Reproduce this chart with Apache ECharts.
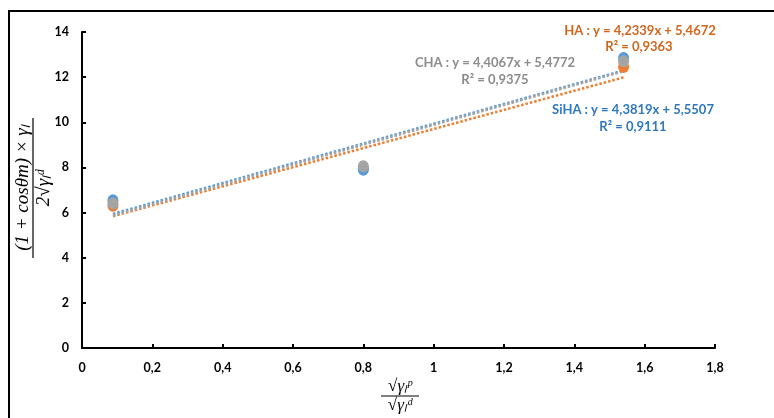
<!DOCTYPE html>
<html><head><meta charset="utf-8">
<script src="https://cdn.jsdelivr.net/npm/echarts@6/dist/echarts.min.js"></script>
<style>html,body{margin:0;padding:0;background:#fff}#c{width:774px;height:418px}</style>
</head><body><div id="c"></div>
<script>
// Data
const xValues = [0.088, 0.80, 1.54];
const haValues = [6.30, 7.95, 12.45];
const chaValues = [6.40, 8.05, 12.70];
const sihaValues = [6.55, 7.90, 12.85];
// Trend line endpoints (from the displayed regression equations)
const haTrend = [[0.088, 5.84], [1.54, 11.99]];
const chaTrend = [[0.088, 5.87], [1.54, 12.26]];
const sihaTrend = [[0.088, 5.94], [1.54, 12.30]];
const xTicks = {min: 0, max: 1.8, interval: 0.2};
const yTicks = {min: 0, max: 14, interval: 2};
const labels = {
  ha: ['HA : y = 4,2339x + 5,4672', 'R² = 0,9363'],
  cha: ['CHA : y = 4,4067x + 5,4772', 'R² = 0,9375'],
  siha: ['SiHA : y = 4,3819x + 5,5507', 'R² = 0,9111']
};

const C_HA = '#ED7D31', C_CHA = '#A5A5A5', C_SIHA = '#5B9BD5';
const T_HA = '#D0661E', T_CHA = '#8C8C8C', T_SIHA = '#2E78C0';

const chart = echarts.init(document.getElementById('c'));
const fmt = v => String(+(+v).toFixed(1)).replace('.', ',');
const lab = {color: '#000', fontWeight: 'bold', fontSize: 12.5, fontFamily: 'Lato'};
function pts(ys){ return xValues.map((x,i)=>[x, ys[i]]); }
function scatter(name, ys, color, z){
  return {name, type:'scatter', data: pts(ys), symbol:'circle', symbolSize:[11,12], z,
    itemStyle:{color, opacity:1}};
}
function trend(name, d, color, z){
  return {name, type:'line', data:d, symbol:'none', z, silent:true,
    lineStyle:{color, width:2.5, type:[2.5,2], cap:'butt'}};
}
function eq(text, x, y, color){
  return {type:'text', x, y, z:100, style:{text, fill:color, font:'bold 13px Lato', align:'center', verticalAlign:'middle'}};
}
const serif = 'italic 19px "Liberation Serif"';
chart.setOption({
  animation:false,
  grid:{left:82, right:59, top:32, bottom:70},
  xAxis:{type:'value', min:xTicks.min, max:xTicks.max, interval:xTicks.interval,
    axisLine:{lineStyle:{color:'#000', width:2}},
    axisTick:{inside:true, length:4, lineStyle:{color:'#000', width:2}},
    splitLine:{show:false},
    axisLabel:Object.assign({margin:13, formatter:fmt}, lab)},
  yAxis:{type:'value', min:yTicks.min, max:yTicks.max, interval:yTicks.interval,
    axisLine:{show:true, lineStyle:{color:'#000', width:2}},
    axisTick:{show:true, inside:true, length:4, lineStyle:{color:'#000', width:2}},
    splitLine:{show:false},
    axisLabel:Object.assign({margin:13, formatter:fmt}, lab)},
  series:[
    trend('HA trend', haTrend, C_HA, 2),
    trend('SiHA trend', sihaTrend, C_SIHA, 2),
    trend('CHA trend', chaTrend, C_CHA, 2),
    scatter('HA', haValues, C_HA, 3),
    scatter('SiHA', sihaValues, C_SIHA, 4),
    scatter('CHA', chaValues, C_CHA, 5)
  ],
  graphic:[
    {type:'rect', shape:{x:9, y:11, width:900, height:600}, style:{fill:'none', stroke:'#000', lineWidth:2}, z:0},
    eq(labels.ha[0], 640, 31, T_HA), eq(labels.ha[1], 639, 47, T_HA),
    eq(labels.cha[0], 495, 63, T_CHA), eq(labels.cha[1], 495, 80, T_CHA),
    eq(labels.siha[0], 633, 110, T_SIHA), eq(labels.siha[1], 633, 127, T_SIHA),
    {type:'group', x:33, y:188, rotation:Math.PI/2, children:[
      {type:'line', shape:{x1:-70, y1:0, x2:70, y2:0}, style:{stroke:'#000', lineWidth:1.2}},
      {type:'text', x:0, y:-1, style:{text:'(1 + cosθm) × γₗ', font:serif, fill:'#000', align:'center', verticalAlign:'bottom'}},
      {type:'text', x:0, y:1, style:{text:'2√γₗᵈ', font:serif, fill:'#000', align:'center', verticalAlign:'top'}}
    ]},
    {type:'group', x:400, y:396, children:[
      {type:'line', shape:{x1:-19, y1:0, x2:19, y2:0}, style:{stroke:'#000', lineWidth:1}},
      {type:'text', x:0, y:-1, style:{text:'√γₗᵖ', font:'italic 17px "Liberation Serif"', fill:'#000', align:'center', verticalAlign:'bottom'}},
      {type:'text', x:0, y:1, style:{text:'√γₗᵈ', font:'italic 17px "Liberation Serif"', fill:'#000', align:'center', verticalAlign:'top'}}
    ]}
  ]
});
</script></body></html>
